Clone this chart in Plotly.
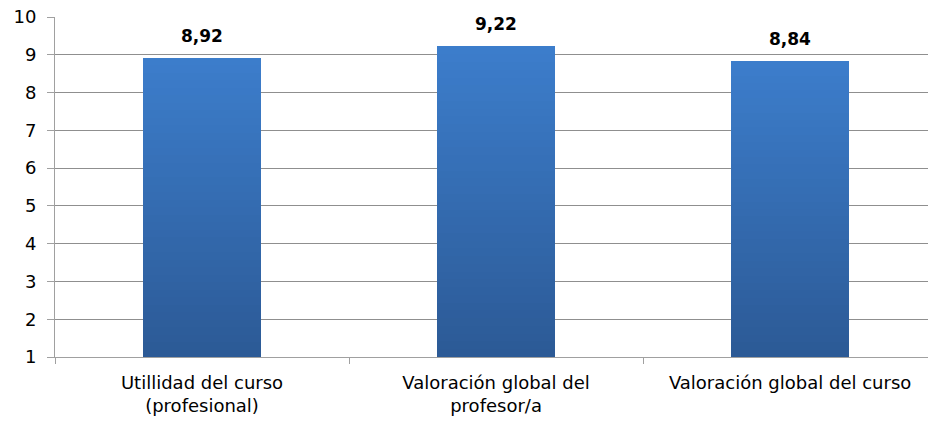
import plotly.graph_objects as go

categories = ["Utillidad del curso<br>(profesional)", "Valoración global del<br>profesor/a", "Valoración global del curso"]
values = [8.92, 9.22, 8.84]
value_labels = ["8,92", "9,22", "8,84"]
y_ticks = [1, 2, 3, 4, 5, 6, 7, 8, 9, 10]

AXIS_MIN = 1
top_rgb = (60, 125, 203)
bot_rgb = (44, 90, 150)
N = 40
FONT = "DejaVu Sans, Liberation Sans, Arial"

fig = go.Figure()
# vertical gradient: overlay progressively shorter bars, darker toward the bottom
for k in range(N, 0, -1):
    t = (k - 1) / (N - 1)
    c = tuple(round(bot_rgb[i] + (top_rgb[i] - bot_rgb[i]) * t) for i in range(3))
    fig.add_trace(go.Bar(
        x=categories,
        y=[(v - AXIS_MIN) * k / N for v in values],
        base=[AXIS_MIN] * len(values),
        marker=dict(color="rgb(%d,%d,%d)" % c, line=dict(width=0)),
        width=0.4,
        hoverinfo="skip",
        showlegend=False,
    ))

for cat, v, lab in zip(categories, values, value_labels):
    fig.add_annotation(x=cat, y=v, text="<b>%s</b>" % lab, showarrow=False,
                       yanchor="bottom", yshift=10,
                       font=dict(family=FONT, size=17, color="#000"))

fig.update_layout(
    width=928, height=423,
    margin=dict(l=55, r=0, t=17, b=66),
    paper_bgcolor="white", plot_bgcolor="white",
    barmode="overlay", bargap=0,
    font=dict(family=FONT, size=18, color="#000"),
    xaxis=dict(
        type="category", range=[-0.5, 2.469], automargin=False,
        showline=True, linecolor="#a0a0a0", linewidth=1,
        ticks="outside", tickson="boundaries", ticklen=6, tickcolor="#a0a0a0",
        ticklabelstandoff=9,
        showgrid=False, tickfont=dict(size=18),
    ),
    yaxis=dict(
        range=[1, 10], tickvals=y_ticks, automargin=False,
        ticklabeloverflow="allow", ticklabelstandoff=7,
        showline=True, linecolor="#a0a0a0", linewidth=1,
        ticks="outside", ticklen=7, tickcolor="#a0a0a0",
        showgrid=True, gridcolor="#8f8f8f", gridwidth=1,
        zeroline=False, tickfont=dict(size=18),
    ),
)

fig.write_html("out.html",
               config={"displayModeBar": False},
               post_script="document.body.style.margin='0';document.body.style.overflow='hidden';")
